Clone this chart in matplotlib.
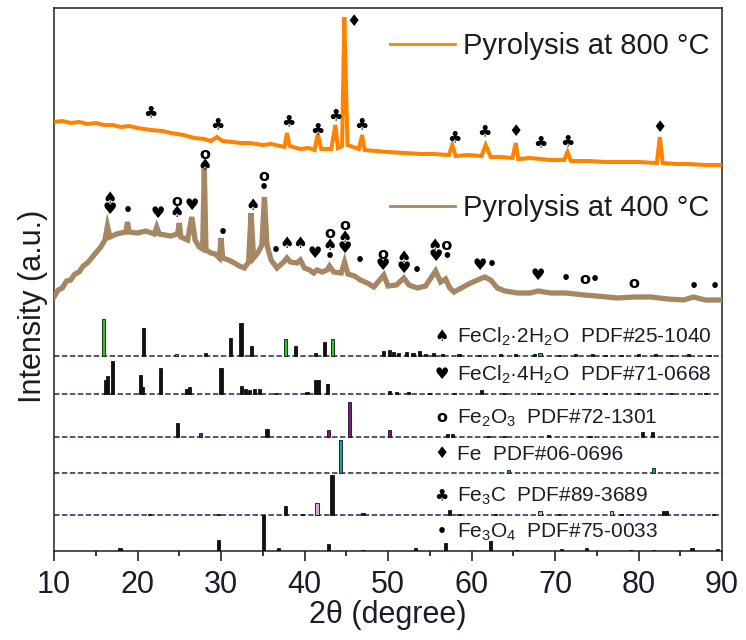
import matplotlib
matplotlib.use("Agg")
import matplotlib.pyplot as plt
from matplotlib.lines import Line2D

plt.rcParams['font.family'] = ['Liberation Sans', 'DejaVu Sans']
plt.rcParams['mathtext.fontset'] = 'custom'
plt.rcParams['mathtext.rm'] = 'Liberation Sans'
plt.rcParams['mathtext.it'] = 'Liberation Sans:italic'
plt.rcParams['mathtext.bf'] = 'Liberation Sans:bold'

# ---------------- data ----------------
# XRD pattern, pyrolysis at 800 C (2theta, intensity a.u.)
tt_800 = [10.0, 11.0, 12.0, 13.0, 14.0, 15.0, 16.0, 17.0, 18.0, 19.0, 20.0, 21.6, 23.0,
          24.0, 25.5, 26.8, 28.0, 28.8, 29.5, 30.2, 31.3, 32.4, 33.5, 35.0, 36.0, 37.1,
          37.6, 37.9, 38.2, 39.5, 40.5, 41.2, 41.6, 42.0, 43.2, 43.7, 44.0, 44.5, 44.77,
          44.95, 45.15, 46.5, 46.9, 47.2, 48.5, 50.0, 52.0, 54.0, 55.5, 57.3, 57.7, 58.1,
          59.5, 61.2, 61.7, 62.3, 63.5, 64.9, 65.3, 65.6, 67.0, 68.2, 69.5, 71.1, 71.5,
          71.9, 74.0, 76.0, 78.0, 80.0, 82.2, 82.55, 82.9, 84.5, 86.0, 88.0, 90.0]
int_800 = [429, 430, 428, 429, 427, 428, 426, 426, 424, 425, 423, 421, 420,
           418, 416, 413, 412, 410, 414, 410, 409, 408, 408, 406, 407, 405,
           404, 418, 405, 402, 403, 401, 417, 402, 402, 426, 403, 405, 534,
           471, 406, 402, 416, 401, 400, 399, 398, 397, 397, 396, 406, 395,
           396, 395, 406, 394, 394, 393, 408, 392, 393, 392, 391, 391, 399,
           390, 390, 389, 389, 389, 388, 414, 388, 387, 387, 386, 386]

# XRD pattern, pyrolysis at 400 C
tt_400 = [10.0, 10.5, 11.0, 11.5, 12.0, 12.5, 13.0, 13.5, 14.0, 14.5, 15.0, 15.6, 16.1,
          16.4, 16.7, 17.5, 18.0, 18.6, 18.8, 19.0, 20.0, 21.0, 22.0, 22.3, 22.6, 23.3,
          24.0, 24.8, 25.0, 25.2, 26.0, 26.5, 26.9, 27.4, 27.8, 28.0, 28.2, 28.8, 29.3,
          29.8, 30.0, 30.2, 30.9, 31.6, 32.2, 32.8, 33.3, 33.6, 33.9, 34.4, 34.9, 35.2,
          35.5, 36.0, 36.7, 37.5, 37.9, 38.3, 39.1, 39.5, 40.0, 40.6, 41.1, 41.5, 42.1,
          42.7, 43.0, 43.5, 44.4, 44.8, 45.2, 46.0, 46.7, 47.5, 48.3, 49.5, 50.0, 51.0,
          51.9, 52.5, 53.5, 54.5, 55.7, 56.3, 56.9, 57.4, 57.9, 59.0, 59.9, 61.0, 61.6,
          62.3, 63.1, 64.0, 65.5, 67.0, 68.0, 69.5, 71.3, 73.5, 75.0, 77.5, 79.4, 81.5,
          83.5, 85.4, 86.6, 88.0, 90.0]
int_400 = [254, 261, 263, 270, 271, 277, 279, 285, 288, 293, 298, 304, 311,
           325, 314, 317, 318, 319, 329, 319, 318, 320, 317, 324, 317, 316,
           315, 317, 328, 314, 311, 334, 311, 304, 302, 383, 301, 298, 297,
           293, 313, 293, 291, 288, 285, 283, 289, 338, 293, 298, 306, 354,
           306, 291, 283, 289, 293, 289, 288, 291, 283, 281, 278, 281, 279,
           281, 285, 279, 278, 289, 277, 275, 271, 268, 264, 276, 265, 266,
           273, 266, 263, 265, 280, 269, 272, 263, 259, 264, 268, 272, 274,
           271, 263, 260, 258, 258, 260, 258, 258, 256, 255, 253, 254, 254,
           252, 251, 254, 251, 251]

# Reference patterns (2theta, relative stick height)
fecl2_2h2o_pos = [15.95, 20.7, 24.7, 28.1, 31.1, 32.4, 33.7, 37.7, 38.9, 41.3, 42.4, 43.4,
                  49.5, 50.2, 50.7, 51.3, 52.2, 53.0, 53.8, 54.5, 55.4, 56.5, 58.5, 61.0,
                  63.5, 65.3, 67.5, 68.2, 70.5, 72.5, 74.5, 76.0, 78.0, 80.0, 82.0, 84.0,
                  86.0, 88.5]
fecl2_2h2o_int = [36.7, 27.7, 2, 3, 17.7, 33.3, 10.3, 16.7, 10, 2.7, 14.3, 16.7,
                  5, 6, 4, 3, 4, 3, 5, 2, 3, 2, 2, 1.5,
                  2, 2, 2, 3, 1.5, 2, 2, 1.5, 1.5, 2, 2, 1.5,
                  2, 1.5]
fecl2_4h2o_pos = [16.2, 16.45, 17.0, 20.35, 20.6, 22.8, 25.9, 26.2, 30.0, 32.5, 32.9, 33.4,
                  34.0, 34.6, 36.5, 40.3, 41.3, 41.7, 42.8, 50.2, 51.0, 52.5, 55.0, 58.0,
                  61.2, 64.0, 68.0, 72.0, 76.0, 80.0, 84.0, 88.0]
fecl2_4h2o_int = [13.7, 17.7, 32.7, 19.3, 7, 26, 5, 7, 26, 8, 5, 4,
                  5, 5, 1, 2, 14.3, 14.3, 10.3, 2.7, 2.5, 2, 1.5, 1.5,
                  4, 1.5, 1.5, 1.5, 1.5, 1.5, 1, 1]
fe2o3_pos = [24.8, 27.5, 35.5, 42.9, 45.4, 50.2, 57.1, 57.7, 62.0, 64.0, 69.2, 74.2, 80.5, 81.7]
fe2o3_int = [14, 4.3, 8.3, 6.7, 35, 6.7, 3, 3, 1.5, 1.5, 2, 1.5, 5, 5]
fe_pos = [44.35, 64.4, 81.8]
fe_int = [32.7, 3, 5]
fe3c_pos = [21.4, 29.7, 37.7, 39.8, 41.5, 43.3, 47.0, 57.4, 58.5, 62.9, 68.2, 70.5, 76.8,
            78.0, 83.0, 83.4, 89.0]
fe3c_int = [1, 1, 9.3, 1, 11.7, 40, 1.7, 5, 1, 1, 4, 1, 4, 1, 4, 4, 1]
fe3o4_pos = [17.9, 29.7, 35.1, 36.9, 42.9, 47.0, 53.3, 56.9, 62.3, 65.4, 70.8, 73.8, 79.0,
             81.8, 86.4, 89.5]
fe3o4_int = [3.3, 11.3, 35.7, 3, 7.3, 1, 3, 8, 10, 1, 2, 3, 1, 1, 3, 2]

ref_names = [r"FeCl$_2$·2H$_2$O  PDF#25-1040", r"FeCl$_2$·4H$_2$O  PDF#71-0668",
             r"Fe$_2$O$_3$  PDF#72-1301", r"Fe  PDF#06-0696",
             r"Fe$_3$C  PDF#89-3689", r"Fe$_3$O$_4$  PDF#75-0033"]
ref_symbols = ["♠", "♥", "o", "♦", "♣", "•"]
ref_offsets = [195, 157, 114, 78, 36, 0]

# phase identification marks on the measured patterns (symbols, 2theta, intensity)
marks_800 = [("♣", 21.6, 438), ("♣", 29.6, 426), ("♣", 38.1, 429), ("♣", 41.5, 421),
             ("♣", 43.7, 435), ("♦", 45.9, 529), ("♣", 46.8, 426), ("♣", 57.9, 413),
             ("♣", 61.6, 419), ("♦", 65.3, 419), ("♣", 68.3, 408), ("♣", 71.5, 409),
             ("♦", 82.5, 423)]
marks_400 = [("♠\n♥", 16.7, 347), ("•", 18.8, 340), ("♥", 22.4, 338),
             ("o\n♠", 24.7, 344), ("♥", 26.5, 346), ("o\n♠", 28.05, 391),
             ("•", 30.2, 319), ("♠", 33.8, 346), ("o\n•", 35.15, 369),
             ("•", 36.6, 300), ("♠♠", 38.75, 307),
             ("♥", 41.2, 297), ("o\n♠\n•", 43.0, 306),
             ("o\n♠\n♥", 44.8, 314), ("•", 46.6, 290),
             ("o\n♥", 49.4, 291), ("♠\n♥", 51.9, 288),
             ("•", 53.4, 281), ("♠o\n♥•", 56.3, 300),
             ("♥", 61.0, 285), ("•", 62.4, 287), ("♥", 67.9, 275),
             ("•", 71.3, 273), ("o•", 74.2, 271), ("o", 79.4, 268),
             ("•", 86.6, 264), ("•", 89.1, 265)]

# ---------------- styles ----------------
ORANGE = '#ff8300'
BROWN = '#a68763'
TXT = '#1c1c28'
ref_sets = [
    (fecl2_2h2o_pos, fecl2_2h2o_int, '#22cc22', [15.95, 37.7, 43.4, 68.2, 24.7]),
    (fecl2_4h2o_pos, fecl2_4h2o_int, '#111111', []),
    (fe2o3_pos, fe2o3_int, '#7d1a8c', [27.5, 42.9, 45.4, 50.2]),
    (fe_pos, fe_int, '#17a3a3', [44.35, 64.4, 81.8]),
    (fe3c_pos, fe3c_int, '#d9a8d6', [41.5, 68.2, 76.8]),
    (fe3o4_pos, fe3o4_int, '#111111', []),
]


def mark(ax, x, y, s, size=11.5, **kw):
    ax.text(x, y, s, fontsize=size, fontweight='bold', color='black', ha='center',
            va='center', family='DejaVu Sans', linespacing=0.74, zorder=5, **kw)


fig = plt.figure(figsize=(7.46, 6.4), dpi=100)
ax = fig.add_axes([54/746, 89/640, 668/746, 543/640])

ax.plot(tt_800, int_800, color=ORANGE, lw=2.9, solid_joinstyle='miter', zorder=3)
ax.plot(tt_400, int_400, color=BROWN, lw=3.8, solid_joinstyle='miter', zorder=3)

for (pos, hts, acc, acc_pos), base, name, sym in zip(ref_sets, ref_offsets, ref_names, ref_symbols):
    cols = [acc if p in acc_pos else '#111111' for p in pos]
    ax.bar(pos, hts, bottom=base, width=0.38, color=cols, edgecolor='#111111',
           linewidth=0.6, zorder=4)
    if base > 0:
        ax.axhline(base, color='#3d4a6e', lw=1.3, ls=(0, (3, 1.4)), zorder=2)
    ax.text(58.3, base + 13.0, name, fontsize=15, color=TXT, ha='left', va='baseline')
    mark(ax, 56.45, base + 19.3, sym)

for sym, x, y in marks_800 + marks_400:
    mark(ax, x, y, sym)

# legends
h800 = Line2D([], [], color=ORANGE, lw=2)
h400 = Line2D([], [], color=BROWN, lw=2)
leg1 = ax.legend([h800], ['Pyrolysis at 800 °C'], loc='center left',
                 bbox_to_anchor=((390 - 54) / 668, (551 - 46) / 543), frameon=False,
                 fontsize=21, handlelength=2.23, handletextpad=0.27, borderpad=0,
                 borderaxespad=0, labelcolor=TXT)
ax.add_artist(leg1)
ax.legend([h400], ['Pyrolysis at 400 °C'], loc='center left',
          bbox_to_anchor=((390 - 54) / 668, (551 - 208) / 543), frameon=False,
          fontsize=21, handlelength=2.23, handletextpad=0.27, borderpad=0,
          borderaxespad=0, labelcolor=TXT)

ax.set_xlim(10, 90)
ax.set_ylim(0, 543)
ax.set_xticks(range(10, 91, 10))
ax.set_xticks(range(15, 90, 10), minor=True)
ax.set_yticks([])
ax.tick_params(axis='x', which='major', direction='out', length=7.2, width=1.1,
               labelsize=22, pad=6.5, colors='#111111')
ax.tick_params(axis='x', which='minor', direction='out', length=3.6, width=1.1)
ax.tick_params(axis='x', labelcolor=TXT)
for s in ax.spines.values():
    s.set_linewidth(1.1)
    s.set_color('#222222')

ax.set_xlabel('2θ (degree)', fontsize=22, color=TXT, labelpad=0)
ax.set_ylabel('Intensity (a.u.)', fontsize=22, color=TXT)
ax.yaxis.set_label_coords(-0.009, 0.45)

fig.savefig('out.png', dpi=100)
